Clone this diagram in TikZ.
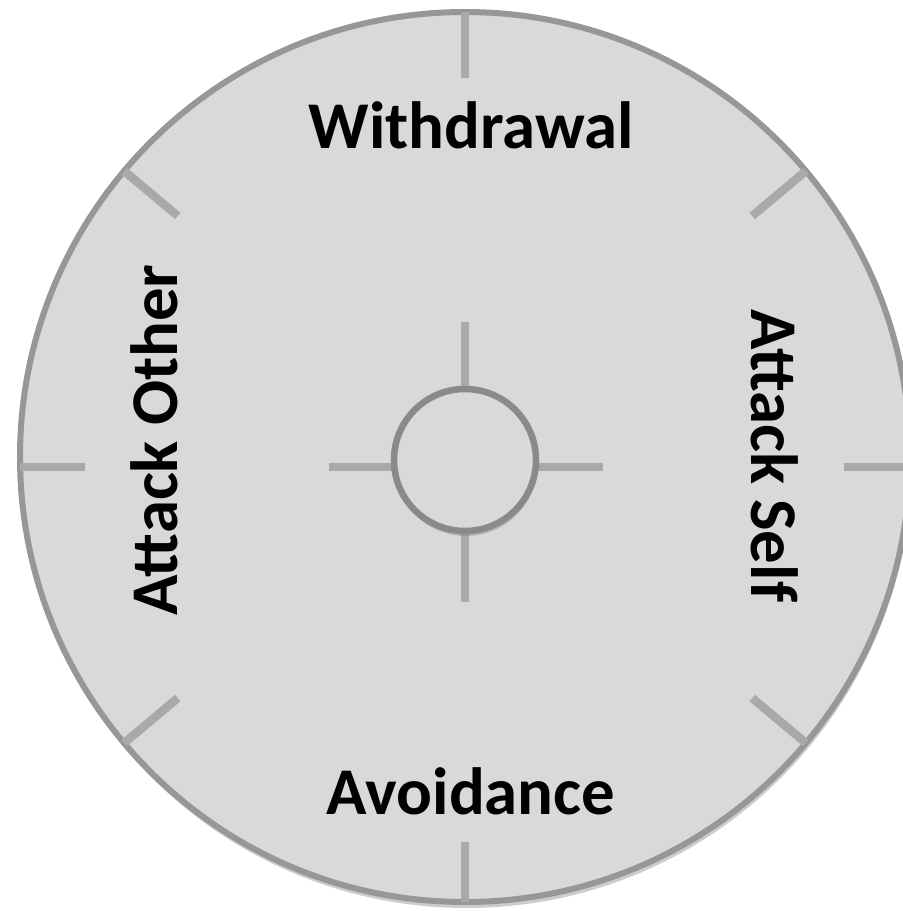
\documentclass[tikz,border=0pt]{standalone}
\usepackage{fontspec}
\setmainfont{Carlito}
\usepackage{tikz}
\usetikzlibrary{
  calc,
  shadows
}
\definecolor{wheelfill}{HTML}{D9D9D9}
\definecolor{wheeledge}{HTML}{979797}
\definecolor{wheeltick}{HTML}{A9A9A9}
\definecolor{hubedge}{HTML}{8A8A8A}

\begin{document}
\begin{tikzpicture}[
      rim/.style={
        circle, minimum size=8.9cm, inner sep=0pt,
        draw=wheeledge, line width=0.06cm, fill=wheelfill,
        drop shadow={shadow xshift=0.015cm, shadow yshift=-0.06cm, opacity=0.4}
      },
      hub/.style={
        circle, minimum size=1.42cm, inner sep=0pt,
        draw=hubedge, line width=0.065cm, fill=wheelfill,
        drop shadow={shadow xshift=0.01cm, shadow yshift=-0.05cm, opacity=0.4}
      },
      tick/.style={draw=wheeltick, line width=0.085cm},
      cat/.style={font=\fontsize{19}{23}\selectfont\bfseries, anchor=base, inner sep=0pt}
    ]
      \useasboundingbox (0,0) rectangle (9.03,9.11);
      \clip (0,0) rectangle (9.03,9.11);

      \node[rim] (wheel) at (4.65,4.54) {};
      \coordinate (mid) at (4.65,4.44);
      \coordinate (hubc) at (4.65,4.51);

      % marks on the rim
      \draw[tick] ($(wheel.center)+(0,4.45)$) -- ++(0,-0.66);
      \draw[tick] ($(wheel.center)+(0,-4.45)$) -- ++(0,0.60);
      \draw[tick] ($(mid)+(-4.45,0)$) -- ++(0.65,0);
      \draw[tick] ($(mid)+(4.45,0)$) -- ++(-0.66,0);
      \foreach \a in {40,140,220,320}
        \draw[tick] ($(wheel.center)+(\a:4.45)$) -- ($(wheel.center)+(\a:3.75)$);

      % cross behind the hub
      \draw[tick] ($(hubc)+(0,1.38)$) -- ($(hubc)+(0,-1.42)$);
      \draw[tick] ($(mid)+(-1.36,0)$) -- ($(mid)+(1.38,0)$);
      \node[hub] (hub) at (hubc) {};

      \node[cat] (withdrawal) at (4.71,7.63) {Withdrawal};
      \node[cat] (avoidance) at (4.71,0.96) {Avoidance};
      \node[cat, rotate=90] (other) at (1.78,4.71) {Attack Other};
      \node[cat, rotate=-90] (self) at (7.52,4.55) {Attack Self};
    \end{tikzpicture}
\end{document}
